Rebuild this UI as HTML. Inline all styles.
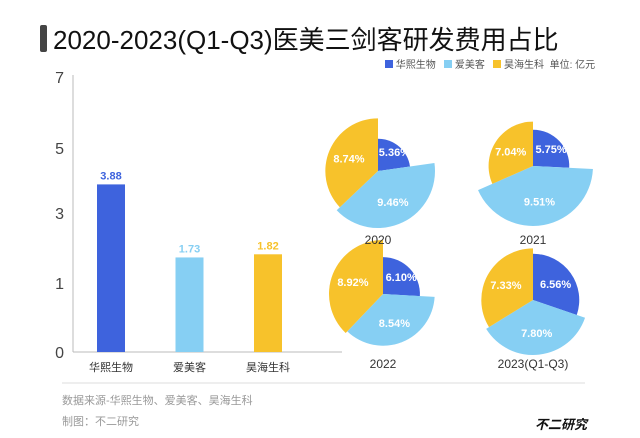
<!DOCTYPE html>
<html><head><meta charset="utf-8">
<style>
body{margin:0;width:640px;height:438px;background:#fff;font-family:"Liberation Sans","Noto Sans CJK SC",sans-serif;overflow:hidden;position:relative}
.t{position:absolute;white-space:nowrap}
</style></head><body>
<div style="position:absolute;left:40px;top:25px;width:7px;height:27px;background:#444;border-radius:2px"></div>
<div class="t" style="left:53px;top:20px;font-size:26px;color:#111">2020-2023(Q1-Q3)医美三剑客研发费用占比</div>
<div class="t" style="left:385px;top:56px;font-size:10px;color:#555">
<span><span style="display:inline-block;width:8px;height:8px;background:#3e63dd"></span> 华熙生物</span>&nbsp;&nbsp;
<span><span style="display:inline-block;width:8px;height:8px;background:#86cff3"></span> 爱美客</span>&nbsp;&nbsp;
<span><span style="display:inline-block;width:8px;height:8px;background:#f7c22b"></span> 昊海生科</span>&nbsp; 单位: 亿元</div>
<svg id="c" width="640" height="438" style="position:absolute;left:0;top:0"></svg>
<div class="t" style="left:62px;top:392px;font-size:11px;color:#999">数据来源-华熙生物、爱美客、昊海生科</div>
<div class="t" style="left:62px;top:413px;font-size:11px;color:#999">制图：不二研究</div>
<div class="t" style="left:535px;top:414px;font-size:13px;font-weight:bold;color:#111;font-style:italic">不二研究</div>
<script>
const categories=["华熙生物","爱美客","昊海生科"];
const barValues=[3.88,1.73,1.82];
const tickValues=[0,1,3,5,7];
const years=["2020","2021","2022","2023(Q1-Q3)"];
const huaxi=[5.36,5.75,6.10,6.56];
const aimeike=[9.46,9.51,8.54,7.80];
const haohai=[8.74,7.04,8.92,7.33];
const colors=["#3e63dd","#86cff3","#f7c22b"];
const barColors=["#3e63dd","#86cff3","#f7c22b"];
const labelColors=["#3e63dd","#86cff3","#f7c22b"];
const svg=document.getElementById('c');const NS="http://www.w3.org/2000/svg";
function mk(t,a){const e=document.createElementNS(NS,t);for(const k in a)e.setAttribute(k,a[k]);svg.appendChild(e);return e;}
const tickPx=[352,283,213,148,77];
function y(v){for(let i=1;i<tickValues.length;i++){if(v<=tickValues[i]){const f=(v-tickValues[i-1])/(tickValues[i]-tickValues[i-1]);return tickPx[i-1]+f*(tickPx[i]-tickPx[i-1]);}}return tickPx[tickPx.length-1];}
function x(i){return 111+i*78.5;}
let a=mk('line',{x1:73,y1:75,x2:73,y2:352,stroke:'#bbb'});
a=mk('line',{x1:73,y1:352,x2:342,y2:352,stroke:'#bbb'});
tickValues.forEach(v=>{const t=mk('text',{x:64,y:y(v)+6,'font-size':16,fill:'#444','text-anchor':'end'});t.textContent=v;

});
barValues.forEach((v,i)=>{const r=mk('rect',{x:x(i)-14,y:y(v),width:28,height:352-y(v),fill:barColors[i]});


const t=mk('text',{x:x(i),y:y(v)-5,'font-size':11,'font-weight':'bold',fill:labelColors[i],'text-anchor':'middle'});t.textContent=v.toFixed(2);


const c=mk('text',{x:x(i),y:371,'font-size':11,fill:'#333','text-anchor':'middle'});c.textContent=categories[i];

});
const centers=[[378,171],[533,166],[383,294],[533,300]];
const pieR=[57,60,54,55];
years.forEach((yr,k)=>{const vals=[huaxi[k],aimeike[k],haohai[k]];const sum=vals[0]+vals[1]+vals[2];const mx=Math.max(...vals);const [cx,cy]=centers[k];let ang=0;
vals.forEach((v,j)=>{const a0=ang,a1=ang+v/sum*Math.PI*2;ang=a1;const r=pieR[k]*v/mx;
const p=[cx,cy,cx+r*Math.sin(a0),cy-r*Math.cos(a0),cx+r*Math.sin(a1),cy-r*Math.cos(a1)];
const path=mk('path',{d:`M${p[0]},${p[1]}L${p[2]},${p[3]}A${r},${r} 0 ${a1-a0>Math.PI?1:0} 1 ${p[4]},${p[5]}Z`,fill:colors[j]});


const m=(a0+a1)/2,lr=Math.max(r*0.6,25);const t=mk('text',{x:cx+lr*Math.sin(m),y:cy-lr*Math.cos(m)+4,'font-size':11,'font-weight':'bold',fill:'#fff','text-anchor':'middle'});t.textContent=v.toFixed(2)+'%';

});});
years.forEach((yr,k)=>{const t=mk('text',{x:centers[k][0],y:k<2?244:368,'font-size':12,fill:'#333','text-anchor':'middle'});t.textContent=yr;

});
a=mk('line',{x1:62,y1:383,x2:585,y2:383,stroke:'#ddd'});
</script>
</body></html>
